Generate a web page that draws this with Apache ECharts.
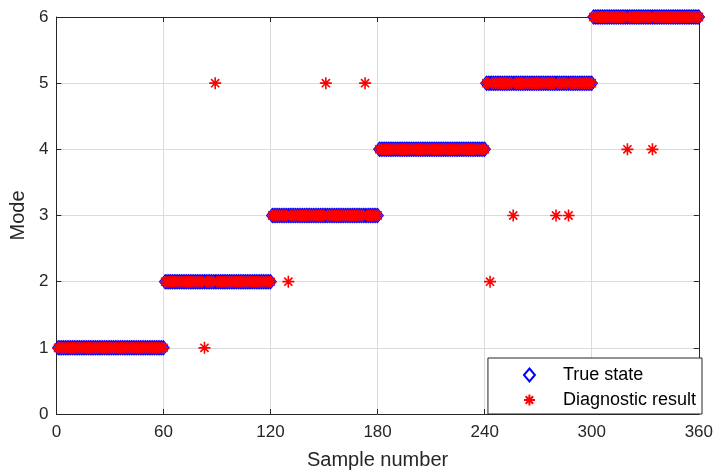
<!DOCTYPE html>
<html>
<head>
<meta charset="utf-8">
<script src="https://cdn.jsdelivr.net/npm/echarts@6/dist/echarts.min.js"></script>
<style>
html,body{margin:0;padding:0;background:#fff;}
#chart{width:716px;height:475px;}
</style>
</head>
<body>
<div id="chart"></div>
<script>
// ---- Data ----
var xTicks = [0, 60, 120, 180, 240, 300, 360];
var yTicks = [0, 1, 2, 3, 4, 5, 6];
// true operating mode of each 60-sample segment (samples 1..360)
var segmentModes = [1, 2, 3, 4, 5, 6];
var segmentLength = 60;
// samples where the diagnostic result differs from the true state
var misSamples = [83, 89, 130, 151, 173, 243, 256, 280, 287, 320, 334];
var misModes   = [1, 5, 2, 5, 5, 2, 3, 3, 3, 4, 4];

// ---- Build series ----
var trueState = [];
var diagnostic = [];
for (var s = 0; s < segmentModes.length; s++) {
  for (var k = 1; k <= segmentLength; k++) {
    var n = s * segmentLength + k;
    trueState.push([n, segmentModes[s]]);
  }
}
for (var i = 0; i < trueState.length; i++) {
  var idx = misSamples.indexOf(trueState[i][0]);
  diagnostic.push([trueState[i][0], idx >= 0 ? misModes[idx] : trueState[i][1]]);
}

var FONT = "'Liberation Sans', Arial, Helvetica, sans-serif";
var AX = '#262626';
var GRID = '#dcdcdc';
var asterisk = 'path://M5,0L5,10M0,5L10,5M1.6,1.6L8.4,8.4M1.6,8.4L8.4,1.6';

var chart = echarts.init(document.getElementById('chart'), null, {renderer: 'canvas'});
var option = {
  animation: false,
  backgroundColor: '#fff',
  grid: {left: 56, right: 15, top: 17, bottom: 61, containLabel: false},
  xAxis: [{
    type: 'value', min: xTicks[0], max: xTicks[xTicks.length - 1], interval: 60,
    name: 'Sample number', nameLocation: 'middle', nameGap: 36,
    nameTextStyle: {fontFamily: FONT, fontSize: 20, color: AX},
    axisLine: {show: true, lineStyle: {color: AX, width: 1}},
    axisTick: {show: true, inside: true, length: 5, lineStyle: {color: AX}},
    axisLabel: {fontFamily: FONT, fontSize: 17, color: AX, margin: 10},
    splitLine: {show: true, lineStyle: {color: GRID, width: 1}}
  }, {
    type: 'value', position: 'top', min: xTicks[0], max: xTicks[xTicks.length - 1], interval: 60,
    axisLine: {show: true, onZero: false, lineStyle: {color: AX, width: 1}},
    axisTick: {show: true, inside: true, length: 5, lineStyle: {color: AX}},
    axisLabel: {show: false}, splitLine: {show: false}
  }],
  yAxis: [{
    type: 'value', min: yTicks[0], max: yTicks[yTicks.length - 1], interval: 1,
    name: 'Mode', nameLocation: 'middle', nameGap: 25, nameRotate: 90,
    nameTextStyle: {fontFamily: FONT, fontSize: 20, color: AX},
    axisLine: {show: true, lineStyle: {color: AX, width: 1}},
    axisTick: {show: true, inside: true, length: 5, lineStyle: {color: AX}},
    axisLabel: {fontFamily: FONT, fontSize: 17, color: AX, margin: 8},
    splitLine: {show: true, lineStyle: {color: GRID, width: 1}}
  }, {
    type: 'value', position: 'right', min: yTicks[0], max: yTicks[yTicks.length - 1], interval: 1,
    axisLine: {show: true, onZero: false, lineStyle: {color: AX, width: 1}},
    axisTick: {show: true, inside: true, length: 5, lineStyle: {color: AX}},
    axisLabel: {show: false}, splitLine: {show: false}
  }],
  legend: {
    orient: 'vertical', right: 14, bottom: 61,
    backgroundColor: '#fff', borderColor: AX, borderWidth: 1, borderRadius: 0,
    padding: [8, 6, 5, 35],
    itemWidth: 11, itemHeight: 13, itemGap: 7,
    textStyle: {fontFamily: FONT, fontSize: 18, color: '#000', lineHeight: 18, padding: [0, 0, 0, 23]},
    data: ['True state', 'Diagnostic result']
  },
  series: [{
    name: 'True state', type: 'scatter', data: trueState,
    symbol: 'diamond', symbolSize: [11, 14],
    itemStyle: {color: 'rgba(0,0,0,0)', borderColor: '#0000ff', borderWidth: 1.3, opacity: 1},
    z: 2
  }, {
    name: 'Diagnostic result', type: 'scatter', data: diagnostic,
    symbol: asterisk, symbolSize: 12,
    itemStyle: {color: '#ff0000', borderColor: '#ff0000', borderWidth: 1.6, opacity: 1},
    z: 3
  }]
};
chart.setOption(option);
</script>
</body>
</html>
